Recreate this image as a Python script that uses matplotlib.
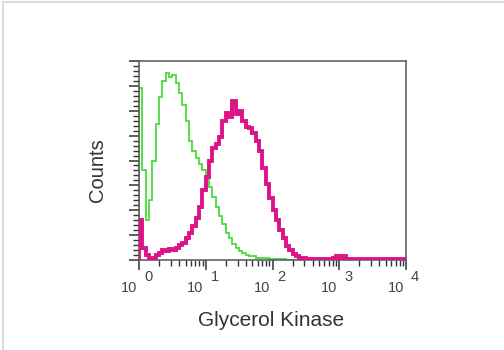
import numpy as np
import matplotlib
matplotlib.use("Agg")
import matplotlib.pyplot as plt
from matplotlib.lines import Line2D
from matplotlib.ticker import MultipleLocator, NullFormatter

plt.rcParams["font.family"] = ["Liberation Sans", "DejaVu Sans"]

# 80 channels spread over 4 log decades (10^0 .. 10^4)
n_channels = 80

# isotype / control histogram (green)
control_counts = [
    138, 72, 32, 48, 80, 109, 131, 144, 150, 147,
    149, 142, 134, 125, 112, 96, 88, 82, 77, 72,
    67, 59, 51, 43, 35, 29, 22, 18, 13, 10,
    7, 6, 4, 3, 3, 2, 2, 2, 2, 1,
    1, 1, 1, 1, 0, 0, 0, 0, 0, 0,
    0, 0, 0, 0, 0, 0, 0, 0, 0, 0,
    0, 0, 0, 0, 0, 0, 0, 0, 0, 0,
    0, 0, 0, 0, 0, 0, 0, 0, 0, 0,
]

# Glycerol Kinase stained histogram (magenta)
stained_counts = [
    32, 10, 4, 2, 2, 4, 6, 8, 7, 9,
    8, 10, 12, 14, 18, 22, 27, 34, 43, 56,
    67, 80, 90, 93, 99, 112, 118, 115, 128, 117,
    120, 112, 107, 106, 102, 96, 88, 74, 61, 50,
    40, 32, 24, 18, 11, 8, 5, 3, 2, 2,
    1, 1, 1, 1, 1, 1, 1, 1, 2, 3,
    1, 3, 1, 1, 1, 1, 1, 1, 1, 1,
    1, 1, 1, 1, 1, 1, 1, 1, 1, 1,
]

major_ticks = [1, 10, 100, 1000, 10000]
exponents = ["0", "1", "2", "3", "4"]

edges = np.logspace(0, 4, n_channels + 1)

fig = plt.figure(figsize=(5.04, 3.5), dpi=100)
ax = fig.add_axes([139 / 504, 90 / 350, 267 / 504, 199 / 350])

ax.stairs(control_counts, edges, color="#48dc3c", linewidth=1.3, zorder=2)
ax.stairs(stained_counts, edges, color="#dc1488", linewidth=2.8, zorder=3)

ax.set_xscale("log")
ax.set_xlim(1, 10000)
ax.set_ylim(0, 160)

ax.set_xticks(major_ticks)
ax.xaxis.set_major_formatter(NullFormatter())
ax.xaxis.set_minor_formatter(NullFormatter())
ax.yaxis.set_major_locator(MultipleLocator(20))
ax.yaxis.set_minor_locator(MultipleLocator(4))
ax.yaxis.set_major_formatter(NullFormatter())

ax.tick_params(which="major", direction="out", length=7, width=1.1, color="#333333")
ax.tick_params(which="minor", direction="out", length=4, width=1.0, color="#333333")
for spine in ax.spines.values():
    spine.set_color("#555555")
    spine.set_linewidth(1.1)

for tick, exp in zip(major_ticks, exponents):
    ax.annotate("10", xy=(tick, 0), xycoords=("data", "axes fraction"),
                xytext=(-7.5, -20.5), textcoords="offset points",
                ha="center", va="center", fontsize=10.5, color="#444444")
    ax.annotate(exp, xy=(tick, 0), xycoords=("data", "axes fraction"),
                xytext=(6.5, -12.5), textcoords="offset points",
                ha="center", va="center", fontsize=10.5, color="#444444")

fig.text(271 / 504, 1 - 321 / 350, "Glycerol Kinase", ha="center", va="center",
         fontsize=15, color="#333333")
fig.text(98 / 504, 1 - 170 / 350, "Counts", ha="center", va="center",
         rotation=90, fontsize=14.5, color="#333333")

# light grey frame on the top and left of the picture
fig.add_artist(Line2D([3 / 504, 1], [1 - 2 / 350, 1 - 2 / 350],
                      transform=fig.transFigure, color="#dddddd", linewidth=1.5))
fig.add_artist(Line2D([3 / 504, 3 / 504], [0, 1 - 2 / 350],
                      transform=fig.transFigure, color="#dddddd", linewidth=1.5))

fig.savefig("out.png", dpi=100)
